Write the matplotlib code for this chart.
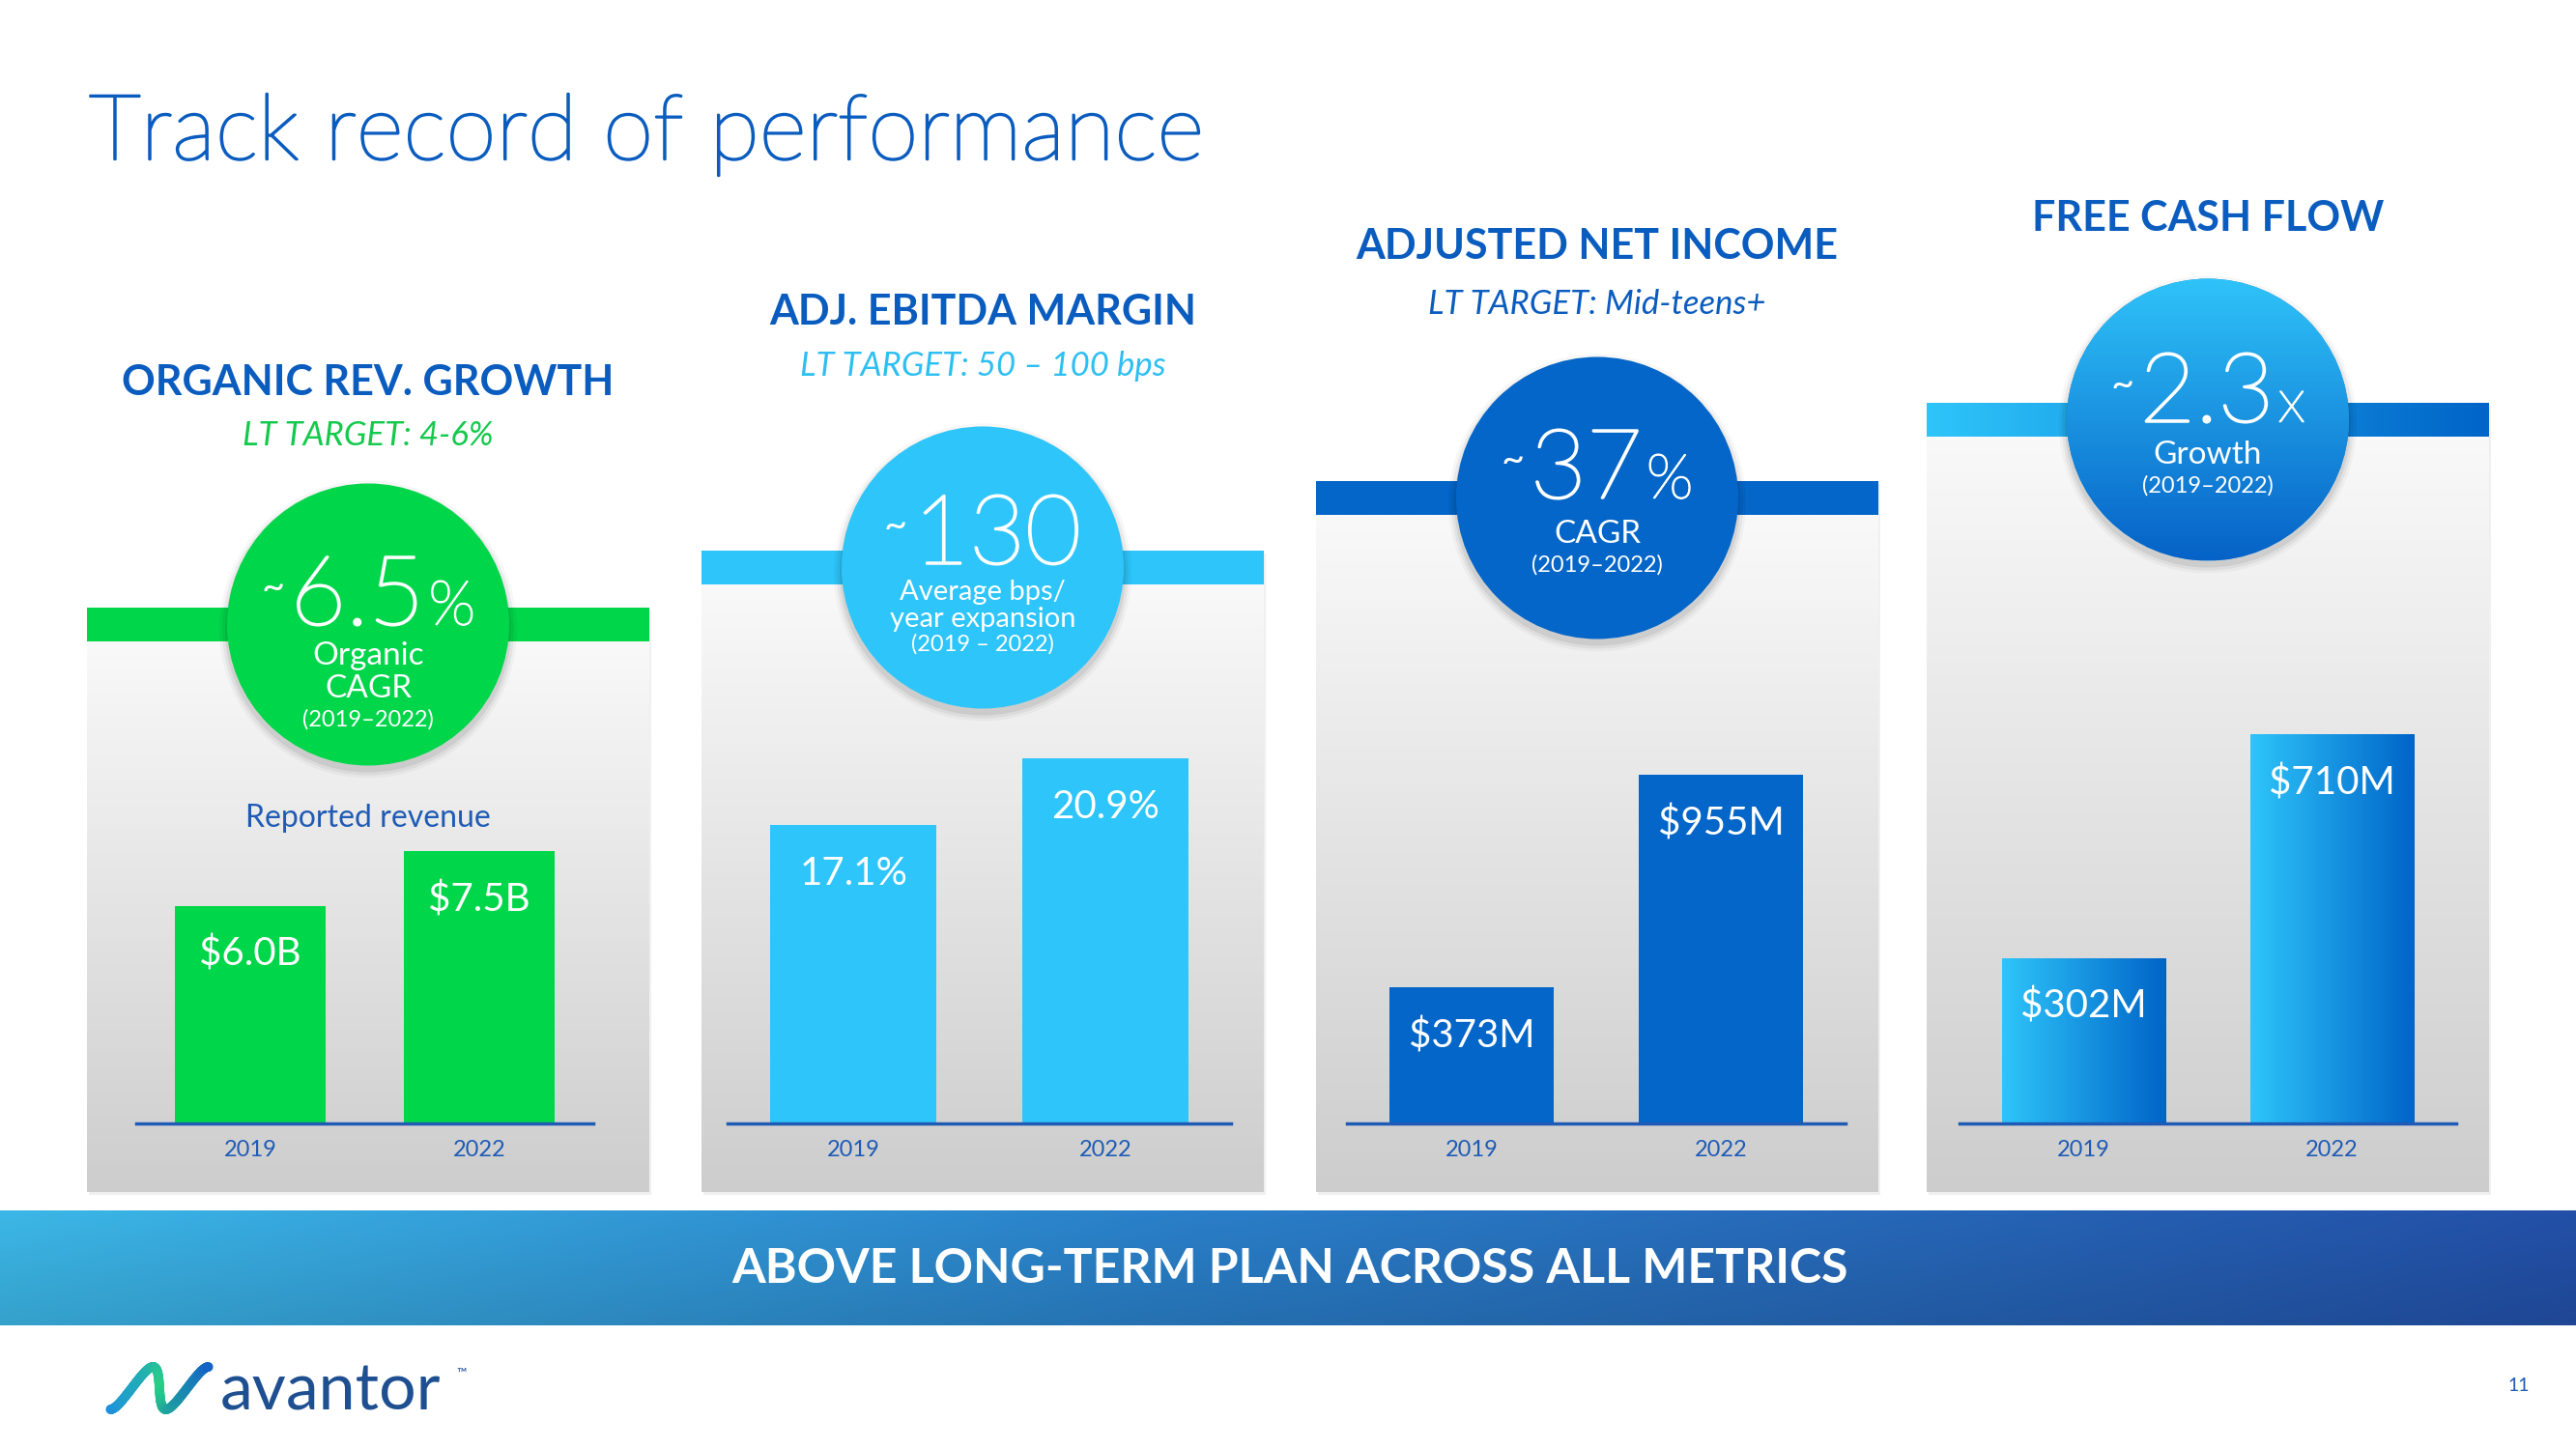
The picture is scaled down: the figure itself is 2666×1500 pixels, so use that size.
import numpy as np
import matplotlib
matplotlib.use('Agg')
import matplotlib.pyplot as plt
import matplotlib.patheffects as pe
from matplotlib.patches import Rectangle, Circle
from matplotlib.colors import to_rgb
from matplotlib.collections import LineCollection

plt.rcParams['font.family'] = ['Lato', 'DejaVu Sans']

# ---- chart data ----
years = ['2019', '2022']
revenue_b = [6.0, 7.5]
ebitda_margin_pct = [17.1, 20.9]
net_income_m = [373, 955]
free_cash_flow_m = [302, 710]

headings = ['ORGANIC REV. GROWTH', 'ADJ. EBITDA MARGIN', 'ADJUSTED NET INCOME', 'FREE CASH FLOW']
targets = ['LT TARGET: 4-6%', 'LT TARGET: 50 – 100 bps', 'LT TARGET: Mid-teens+', '']
big_numbers = ['6.5', '130', '37', '2.3']
big_units = ['%', '', '%', 'x']
circle_notes = [['Organic', 'CAGR', '(2019–2022)'],
                ['Average bps/', 'year expansion', '(2019 – 2022)'],
                ['CAGR', '(2019–2022)'],
                ['Growth', '(2019–2022)']]
value_formats = ['${:.1f}B', '{:.1f}%', '${:.0f}M', '${:.0f}M']
series = [revenue_b, ebitda_margin_pct, net_income_m, free_cash_flow_m]

# ---- colours ----
GREEN = '#00d64a'
LIGHT = '#2ec5fa'
BLUE = '#0466c8'
DARK = '#0a5cbf'
LABEL = '#1f5bb5'
panel_col = [GREEN, LIGHT, BLUE, None]
target_col = ['#14c94c', '#2ebff2', DARK, DARK]

# ---- layout (pixels of a 2666x1500 canvas) ----
W, H = 2666, 1500
panel_left = [90, 726, 1362, 1994]
panel_w = 582
panel_bottom = 1234
band_top = [629, 570, 498, 417]
band_h = 35
R = 146
head_y = [396, 323, 255, 226]
target_y = [451, 379, 315, None]
axis_x = [(141, 614), (753, 1274), (1394, 1910), (2028, 2542)]
base_y, top_y = 1163, 748
px_per_unit = [37.58, 18.07, 0.378, 0.567]
num_base = [0, -4, 0, 2]
note_offsets = [[32, 66, 98], [26, 53, 79], [37, 69], [36, 68]]
note_sizes = [[24, 24, 17], [21, 21, 17], [24, 17], [24, 17]]


def hgrad(c0, c1, n=256):
    t = np.linspace(0, 1, n)[None, :, None]
    return (1 - t) * np.array(to_rgb(c0)) + t * np.array(to_rgb(c1))


def vgrad(c0, c1, n=256):
    t = np.linspace(0, 1, n)[:, None, None]
    return (1 - t) * np.array(to_rgb(c0)) + t * np.array(to_rgb(c1))


fig = plt.figure(figsize=(W / 100, H / 100), dpi=100)
bg = fig.add_axes([0, 0, 1, 1])
bg.axis('off')

# title (light weight, slightly thickened)
bg.text(92, 165, 'Track record of performance', fontsize=68, fontweight='light',
        color=DARK, ha='left', va='baseline',
        path_effects=[pe.withStroke(linewidth=1.7, foreground=DARK)])

white_stroke = [pe.withStroke(linewidth=1.8, foreground='white')]
num_groups = []
for i in range(4):
    x0 = panel_left[i]
    cx = x0 + panel_w / 2
    bt = band_top[i]
    cy = bt + band_h / 2

    # panel shadow + gray gradient body
    bg.add_patch(Rectangle((x0 + 2, bt + 3), panel_w, panel_bottom - bt, color='black',
                           alpha=0.06, lw=0, zorder=1))
    bg.imshow(vgrad('#f9f9f9', '#cdcdcd'), extent=(x0, x0 + panel_w, panel_bottom, bt + band_h),
              origin='upper', aspect='auto', zorder=2)

    # coloured band
    if panel_col[i]:
        bg.add_patch(Rectangle((x0, bt), panel_w, band_h, color=panel_col[i], lw=0, zorder=3))
    else:
        bg.imshow(hgrad('#2ec5fa', '#0064c8'), extent=(x0, x0 + panel_w, bt + band_h, bt),
                  origin='upper', aspect='auto', zorder=3)

    # circle with soft shadow
    for k, a in [(8, 0.03), (5, 0.05), (2, 0.07)]:
        bg.add_patch(Circle((cx, cy + 5), R + k, color='black', alpha=a, lw=0, zorder=4))
    circ = Circle((cx, cy), R, color=panel_col[i] or '#1a8fe3', lw=0, zorder=5)
    bg.add_patch(circ)
    if panel_col[i] is None:
        im = bg.imshow(vgrad('#2fc3f9', '#0662c7'), extent=(cx - R, cx + R, cy + R, cy - R),
                       origin='upper', aspect='auto', zorder=5.5)
        im.set_clip_path(circ)

    # headings
    bg.text(cx, head_y[i], headings[i], fontsize=31, fontweight='bold', color=DARK,
            ha='center', va='center')
    if target_y[i]:
        bg.text(cx, target_y[i], targets[i], fontsize=25, style='italic', color=target_col[i],
                ha='center', va='center')

    # big number inside circle
    by = cy + num_base[i]
    t_tilde = bg.text(0, by - 38, '~', fontsize=30, color='white',
                      ha='left', va='center', zorder=6)
    t_num = bg.text(0, by, big_numbers[i], fontsize=72, fontweight='light', color='white',
                    ha='left', va='baseline', zorder=6, path_effects=white_stroke)
    t_unit = bg.text(0, by, big_units[i], fontsize=46, fontweight='light', color='white',
                     ha='left', va='baseline', zorder=6,
                     path_effects=[pe.withStroke(linewidth=1.2, foreground='white')])
    num_groups.append((cx, t_tilde, t_num, t_unit))

    for txt, off, fs in zip(circle_notes[i], note_offsets[i], note_sizes[i]):
        bg.text(cx, cy + off, txt, fontsize=fs, color='white', ha='center', va='center', zorder=6)

# "Reported revenue" caption
bg.text(panel_left[0] + panel_w / 2, 847, 'Reported revenue', fontsize=23, color=LABEL,
        ha='center', va='center')

# bottom banner
left_c = np.array(to_rgb('#3cb7e7'))
mid_c = np.array(to_rgb('#2a80c9'))
right_c = np.array(to_rgb('#2350a8'))
tx = np.linspace(0, 1, 400)
row = np.where(tx[:, None] < 0.45,
               left_c + (mid_c - left_c) * (tx[:, None] / 0.45),
               mid_c + (right_c - mid_c) * ((tx[:, None] - 0.45) / 0.55))
shade = np.linspace(1.0, 0.88, 60)[:, None, None]
banner = np.clip(row[None, :, :] * shade, 0, 1)
bg.imshow(banner, extent=(0, W, 1372, 1253), origin='upper', aspect='auto', zorder=2)
bg.text(1335, 1314, 'ABOVE LONG-TERM PLAN ACROSS ALL METRICS', fontsize=36, fontweight='bold',
        color='white', ha='center', va='center', zorder=3)

# logo
t = np.linspace(0, 1, 200)
ly = 1437 + 22 * np.cos(3 * np.pi * t)
lx = 122 + 86 * t - (ly - 1437) * 0.35
pts = np.column_stack([lx, ly]).reshape(-1, 1, 2)
segs = np.concatenate([pts[:-1], pts[1:]], axis=1)
c_a, c_b, c_c = np.array(to_rgb('#1c8fe2')), np.array(to_rgb('#27cf86')), np.array(to_rgb('#1463c6'))
cols = [c_a + (c_b - c_a) * (s / 0.5) if s < 0.5 else c_b + (c_c - c_b) * ((s - 0.5) / 0.5)
        for s in t[:-1]]
bg.add_collection(LineCollection(segs, colors=cols, linewidths=7, capstyle='round', zorder=3))
bg.text(228, 1440, 'avantor', fontsize=49, color='#1e4f91', ha='left', va='center')
bg.text(472, 1422, '™', fontsize=10, color='#1e4f91', ha='left', va='center')
bg.text(2607, 1435, '11', fontsize=14, color=LABEL, ha='center', va='center')

bg.set_xlim(0, W)
bg.set_ylim(H, 0)

# bar charts
for i in range(4):
    xa, xb = axis_x[i]
    ax = fig.add_axes([xa / W, (H - base_y) / H, (xb - xa) / W, (base_y - top_y) / H])
    ax.set_facecolor('none')
    vals = series[i]
    bars = ax.bar(range(len(years)), vals, width=0.66, color=panel_col[i] or '#1a8fe3', lw=0,
                  zorder=2)
    if panel_col[i] is None:
        for b in bars:
            im = ax.imshow(hgrad('#2ec5fa', '#0064c8'),
                           extent=(b.get_x(), b.get_x() + b.get_width(), 0, b.get_height()),
                           origin='lower', aspect='auto', zorder=2.5)
            im.set_clip_path(b)
    for j, v in enumerate(vals):
        ax.annotate(value_formats[i].format(v), (j, v), xytext=(0, -36), textcoords='offset points',
                    ha='center', va='center', color='white', fontsize=29, zorder=4)
    ax.set_xlim(-0.5, 1.5)
    ax.set_ylim(0, (base_y - top_y) / px_per_unit[i])
    ax.set_yticks([])
    ax.set_xticks(range(len(years)))
    ax.set_xticklabels(years)
    ax.tick_params(axis='x', length=0, pad=12, labelsize=17, labelcolor=LABEL)
    for s in ['top', 'left', 'right']:
        ax.spines[s].set_visible(False)
    ax.spines['bottom'].set_color(LABEL)
    ax.spines['bottom'].set_linewidth(2.5)

# place the "~ number unit" groups centred in each circle
fig.canvas.draw()
rend = fig.canvas.get_renderer()
for cx, t_tilde, t_num, t_unit in num_groups:
    w1 = t_tilde.get_window_extent(rend).width
    w2 = t_num.get_window_extent(rend).width
    w3 = t_unit.get_window_extent(rend).width if t_unit.get_text() else 0
    total = w1 + 6 + w2 + (4 + w3 if w3 else 0)
    start = cx - total / 2
    t_tilde.set_x(start)
    t_num.set_x(start + w1 + 6)
    t_unit.set_x(start + w1 + 6 + w2 + 4)

fig.savefig('out.png', dpi=100, facecolor='white')
